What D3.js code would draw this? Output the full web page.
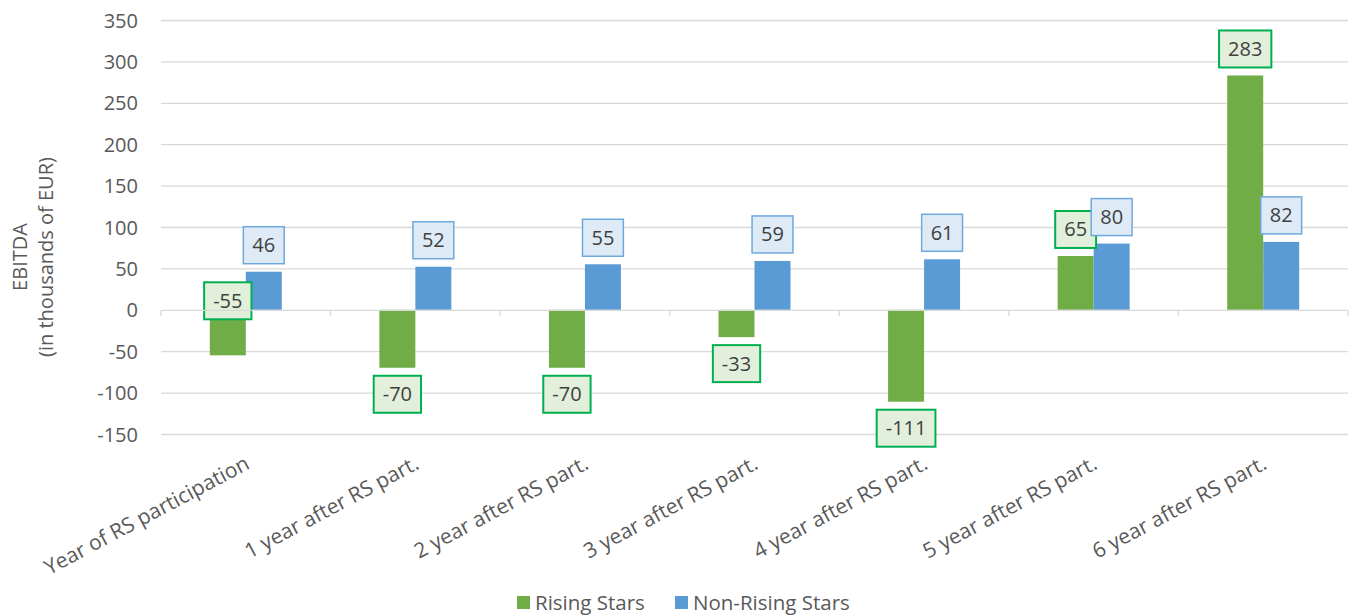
<!DOCTYPE html>
<html>
<head>
<meta charset="utf-8">
<script src="https://cdn.jsdelivr.net/npm/d3@7"></script>
<style>
  html, body { margin: 0; padding: 0; background: #fff; }
  svg { display: block; font-family: "Open Sans", "Noto Sans", sans-serif; }
</style>
</head>
<body>
<svg id="chart" width="1350" height="616"></svg>
<script>
// EBITDA per year relative to RS participation (thousands of EUR)
const categories = [
  "Year of RS participation",
  "1 year after RS part.",
  "2 year after RS part.",
  "3 year after RS part.",
  "4 year after RS part.",
  "5 year after RS part.",
  "6 year after RS part."
];
const seriesNames = ["Rising Stars", "Non-Rising Stars"];
const risingStars = [-55, -70, -70, -33, -111, 65, 283];
const nonRisingStars = [46, 52, 55, 59, 61, 80, 82];
const yTicks = [-150, -100, -50, 0, 50, 100, 150, 200, 250, 300, 350];
// categories whose Rising Stars label sits next to the zero line
const labelsAtAxis = ["Year of RS participation"];

const colors = { "Rising Stars": "#70AD47", "Non-Rising Stars": "#5B9BD5" };
const labelStyle = {
  "Rising Stars": { fill: "#E2EFDA", stroke: "#00B050" },
  "Non-Rising Stars": { fill: "#DEEBF7", stroke: "#6FA8DC" }
};
const textColor = "#595959";
const fmt = v => String(v); // plain hyphen for negatives

const svg = d3.select("#chart");
const plot = { left: 161, right: 1348, top: 20, bottom: 434 };

const y = d3.scaleLinear().domain([-150, 350]).range([plot.bottom, plot.top]);
const x = d3.scaleBand().domain(categories).range([plot.left, plot.right]).padding(0);
const bw = x.bandwidth();
const x1 = d3.scaleBand().domain(seriesNames).range([bw * 0.2877, bw * 0.7123]).padding(0);

const rows = categories.map((c, i) => ({
  category: c,
  values: [
    { series: "Rising Stars", value: risingStars[i] },
    { series: "Non-Rising Stars", value: nonRisingStars[i] }
  ]
}));

// gridlines
svg.append("g")
  .selectAll("line")
  .data(yTicks.filter(t => t !== 0))
  .join("line")
  .attr("x1", plot.left).attr("x2", plot.right)
  .attr("y1", d => y(d) + 0.5).attr("y2", d => y(d) + 0.5)
  .attr("stroke", "#D9D9D9").attr("stroke-width", 1.3);

// y axis labels
const yAxis = d3.axisLeft(y).tickValues(yTicks).tickSize(0).tickPadding(0).tickFormat(fmt);
const yg = svg.append("g").attr("transform", `translate(${plot.left - 23},0)`).call(yAxis);
yg.select(".domain").remove();
yg.selectAll("text")
  .attr("font-size", 20).attr("fill", textColor)
  .attr("font-family", "\"Open Sans\", sans-serif")
  .attr("dy", "0.35em");

// bars
const groups = svg.append("g").selectAll("g")
  .data(rows)
  .join("g")
  .attr("transform", d => `translate(${x(d.category)},0)`);

groups.selectAll("rect")
  .data(d => d.values)
  .join("rect")
  .attr("x", d => x1(d.series))
  .attr("width", x1.bandwidth())
  .attr("y", d => y(Math.max(0, d.value)))
  .attr("height", d => Math.abs(y(d.value) - y(0)))
  .attr("fill", d => colors[d.series]);

// zero axis with category ticks
const xAxis = d3.axisBottom(x).tickSize(0).tickFormat("");
const xg = svg.append("g").attr("transform", `translate(0,${y(0) + 0.5})`).call(xAxis);
xg.select(".domain").attr("stroke", "#D9D9D9").attr("stroke-width", 1.3)
  .attr("d", `M${plot.left},0H${plot.right}`);
xg.selectAll(".tick").remove();
xg.selectAll(".sep")
  .data(d3.range(categories.length + 1))
  .join("line")
  .attr("x1", i => plot.left + i * bw).attr("x2", i => plot.left + i * bw)
  .attr("y1", 0).attr("y2", 6)
  .attr("stroke", "#D9D9D9").attr("stroke-width", 1.3);

// category labels
svg.append("g").selectAll("text")
  .data(categories)
  .join("text")
  .attr("transform", d => `translate(${x(d) + bw / 2 + 5},${y(-150) + 34}) rotate(-28)`)
  .attr("text-anchor", "end")
  .attr("font-size", 21)
  .attr("fill", textColor)
  .text(d => d);

// data labels
const boxH = 37, padX = 9, gap = 8;
const labels = groups.selectAll("g.lbl")
  .data(d => d.values.map(v => ({ ...v, category: d.category })))
  .join("g")
  .attr("class", "lbl");

labels.each(function (d) {
  const g = d3.select(this);
  const cx = x1(d.series) + x1.bandwidth() / 2;
  let cy;
  if (d.series === "Rising Stars" && labelsAtAxis.includes(d.category)) {
    cy = y(0) - 9;
  } else if (d.value >= 0) {
    cy = y(d.value) - gap - boxH / 2;
  } else {
    cy = y(d.value) + gap + boxH / 2;
  }
  const t = g.append("text")
    .attr("x", cx).attr("y", cy)
    .attr("text-anchor", "middle").attr("dy", "0.35em")
    .attr("font-size", 20).attr("fill", "#404040")
    .text(fmt(d.value));
  const w = t.node().getComputedTextLength() + padX * 2;
  g.insert("rect", "text")
    .attr("x", cx - w / 2).attr("y", cy - boxH / 2)
    .attr("width", w).attr("height", boxH)
    .attr("fill", labelStyle[d.series].fill)
    .attr("stroke", labelStyle[d.series].stroke)
    .attr("stroke-width", d.series === "Rising Stars" ? 2 : 1.5);
});

// y axis title
const title = svg.append("g")
  .attr("transform", "translate(0,257) rotate(-90)")
  .attr("text-anchor", "middle")
  .attr("font-size", 20)
  .attr("fill", textColor);
title.append("text").attr("x", 0).attr("y", 27).text("EBITDA");
title.append("text").attr("x", 0).attr("y", 53).text("(in thousands of EUR)");

// legend
const legend = svg.append("g").attr("transform", "translate(517,603)");
const legendItems = legend.selectAll("g")
  .data(seriesNames)
  .join("g")
  .attr("transform", (d, i) => `translate(${i * 158},0)`);
legendItems.append("rect")
  .attr("x", 0).attr("y", -7).attr("width", 13).attr("height", 13)
  .attr("fill", d => colors[d]);
legendItems.append("text")
  .attr("x", 18).attr("y", 0).attr("dy", "0.35em")
  .attr("font-size", 20.5).attr("fill", textColor)
  .text(d => d);
</script>
</body>
</html>
